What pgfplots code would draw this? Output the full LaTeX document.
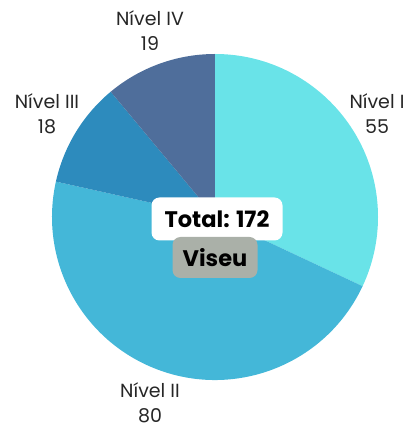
\documentclass[border=0pt]{standalone}
\usepackage{pgfplots}
\pgfplotsset{compat=1.18}
\usepackage{pgfplotstable}
\usepackage{fontspec}
\setmainfont{Poppins}
\definecolor{cI}{HTML}{69E3E8}
\definecolor{cII}{HTML}{44B7D8}
\definecolor{cIII}{HTML}{2D8BBD}
\definecolor{cIV}{HTML}{4F6E9B}
\definecolor{cbox}{HTML}{AAB0A8}
\pgfplotstableread{
nivel value
I 55
II 80
III 18
IV 19
}\pietable
\begin{document}
\begin{tikzpicture}
\pgfplotstablegetelem{0}{value}\of\pietable \let\vA\pgfplotsretval
\pgfplotstablegetelem{1}{value}\of\pietable \let\vB\pgfplotsretval
\pgfplotstablegetelem{2}{value}\of\pietable \let\vC\pgfplotsretval
\pgfplotstablegetelem{3}{value}\of\pietable \let\vD\pgfplotsretval
\pgfmathsetmacro\tot{\vA+\vB+\vC+\vD}
\pgfmathsetmacro\aA{90}
\pgfmathsetmacro\aB{90-\vA/\tot*360}
\pgfmathsetmacro\aC{\aB-\vB/\tot*360}
\pgfmathsetmacro\aD{\aC-\vC/\tot*360}
\pgfmathsetmacro\aE{\aD-\vD/\tot*360}
\pgfmathtruncatemacro\totint{\tot}
\begin{axis}[hide axis, scale only axis, width=415pt, height=428pt,
  xmin=0, xmax=415, ymin=0, ymax=428, clip=false, anchor=south west, at={(0,0)}]
\fill[cI] (axis cs:215,211) -- ([shift={(\aA:163pt)}]axis cs:215,211) arc[start angle=\aA, end angle=\aB, radius=163pt] -- cycle;
\fill[cII] (axis cs:215,211) -- ([shift={(\aB:163pt)}]axis cs:215,211) arc[start angle=\aB, end angle=\aC, radius=163pt] -- cycle;
\fill[cIII] (axis cs:215,211) -- ([shift={(\aC:163pt)}]axis cs:215,211) arc[start angle=\aC, end angle=\aD, radius=163pt] -- cycle;
\fill[cIV] (axis cs:215,211) -- ([shift={(\aD:163pt)}]axis cs:215,211) arc[start angle=\aD, end angle=\aE, radius=163pt] -- cycle;
\node[align=center, inner sep=0pt, font=\fontsize{19}{25}\selectfont, text=black!85] at (axis cs:377,314) {Nível I\\\vA};
\node[align=center, inner sep=0pt, font=\fontsize{19}{25}\selectfont, text=black!85] at (axis cs:150,25) {Nível II\\\vB};
\node[align=center, inner sep=0pt, font=\fontsize{19}{25}\selectfont, text=black!85] at (axis cs:47,314) {Nível III\\\vC};
\node[align=center, inner sep=0pt, font=\fontsize{19}{25}\selectfont, text=black!85] at (axis cs:150,397) {Nível IV\\\vD};
\node[fill=white, rounded corners=8pt, minimum width=131pt, minimum height=43pt, inner sep=0pt, font=\fontsize{22.5}{25}\selectfont\bfseries] at (axis cs:217,209) {Total: \totint};
\node[fill=cbox, rounded corners=8pt, minimum width=85pt, minimum height=41pt, inner sep=0pt, font=\fontsize{22.5}{25}\selectfont\bfseries] at (axis cs:215,170.5) {Viseu};
\end{axis}
\pgfresetboundingbox
\path[use as bounding box] (0,0) rectangle (415pt,428pt);
\end{tikzpicture}
\end{document}
